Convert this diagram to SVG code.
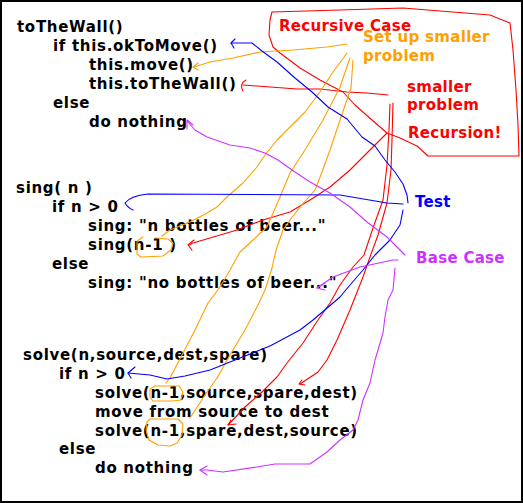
<svg xmlns="http://www.w3.org/2000/svg" width="523" height="503" viewBox="0 0 523 503">
<style>
text{font-family:"DejaVu Sans","Liberation Sans",sans-serif;font-weight:bold;font-size:15px}
.code{fill:#000;letter-spacing:0.7px}
.lab{letter-spacing:0.3px}
.r{fill:#FF0000}.o{fill:#FFA000}.b{fill:#0000FF}.p{fill:#CC33FF}
.ln{fill:none;stroke-width:1.1;stroke-linejoin:round;stroke-linecap:round}
.sr{stroke:#FF0000}.so{stroke:#FFA000}.sb{stroke:#0000FF}.sp{stroke:#CC33FF}
</style>
<rect x="1" y="1" width="521" height="501" fill="#fff" stroke="#000" stroke-width="2"/>

<g id="code-toTheWall">
<text class="code" x="17" y="32">toTheWall()</text>
<text class="code" x="53" y="51">if this.okToMove()</text>
<text class="code" x="89" y="70">this.move()</text>
<text class="code" x="89" y="89">this.toTheWall()</text>
<text class="code" x="53" y="108">else</text>
<text class="code" x="89" y="127">do nothing</text>
</g>
<g id="code-sing">
<text class="code" x="16" y="193">sing( n )</text>
<text class="code" x="52" y="212">if n &gt; 0</text>
<text class="code" x="88" y="231">sing: "n bottles of beer..."</text>
<text class="code" x="88" y="250">sing(n-1 )</text>
<text class="code" x="52" y="269">else</text>
<text class="code" x="88" y="288">sing: "no bottles of beer..."</text>
</g>
<g id="code-solve">
<text class="code" x="23" y="360">solve(n,source,dest,spare)</text>
<text class="code" x="59" y="379">if n &gt; 0</text>
<text class="code" x="95" y="398">solve(n-1,source,spare,dest)</text>
<text class="code" x="95" y="417">move from source to dest</text>
<text class="code" x="95" y="436">solve(n-1,spare,dest,source)</text>
<text class="code" x="59" y="454">else</text>
<text class="code" x="95" y="473">do nothing</text>
</g>

<g id="label-recursive-case">
<path class="ln sr" d="M272,12 L340,10 L403,8 L440,11 L490,15 L510,23 L513,50 L516,90 L518,125 L519,156 L428,156 L417,146 L400,138 L387,133 L372,120 L355,105 L343,92 L320,80 L300,68 L280,53 L273,47 L269,35 L270,20 Z"/>
<text class="lab r" x="279" y="31">Recursive Case</text>
</g>
<g id="label-setup">
<text class="lab o" x="363" y="42">Set up smaller</text>
<text class="lab o" x="363" y="61">problem</text>
</g>
<g id="label-smaller">
<text class="lab r" x="407" y="92">smaller</text>
<text class="lab r" x="407" y="110">problem</text>
</g>
<g id="label-recursion">
<text class="lab r" x="408" y="138">Recursion!</text>
</g>
<g id="label-test">
<text class="lab b" x="415" y="207">Test</text>
</g>
<g id="label-basecase">
<text class="lab p" x="416" y="263">Base Case</text>
</g>

<g id="highlights">
<path class="ln so" d="M143,237 L137,241 L137,254 L141,257 L163,256 L171,250 L173,243 L168,239 L155,238"/>
<path class="ln so" d="M155,386 L179,386 L183,392 L181,400 L172,401 L153,401 L150,397 L150,389 Z"/>
<path class="ln so" d="M150,419 L178,419 L183,424 L182,435 L177,443 L170,446 L158,445 L149,440 L146,430 L147,422 Z"/>
</g>

<g id="connectors">
<!-- red -->
<path class="ln sr" d="M388,95 L367,93 L347,92 L320,89 L297,89 L257,86 L243,85"/>
<path class="ln sr" d="M246,80 Q239,84 243,91"/>
<path class="ln sr" d="M387,133 L372,148 L350,170 L330,187 L310,200 L290,212 L263,220 L237,230 L210,238 L193,243 L189,245"/>
<path class="ln sr" d="M194,240 L188,245 L192,250"/>
<path class="ln sr" d="M390,104 L389,130 L387,165 L383,200 L373,228 L364,255 L353,267 L340,285 L330,303 L318,320 L303,343 L287,363 L277,377 L262,392 L245,407 L228,425"/>
<path class="ln sr" d="M236,424 L228,425 L231,420"/>
<path class="ln sr" d="M393,103 L392,140 L391,170 L387,203 L378,235 L370,257 L363,277 L350,310 L337,340 L327,360 L318,372 L300,384"/>
<path class="ln sr" d="M305,385 L299,384 L302,380"/>
<!-- orange -->
<path class="ln so" d="M347,44 L327,47 L293,50 L260,52 L233,58 L210,62 L194,67"/>
<path class="ln so" d="M198,63 L193,67 L198,70"/>
<path class="ln so" d="M347,53 L333,72 L320,92 L305,112 L290,127 L277,140 L265,155 L257,167 L243,183 L227,197 L217,207 L207,213 L190,222 L170,230 L162,236"/>
<path class="ln so" d="M350,58 L340,87 L323,120 L305,150 L290,173 L280,197 L267,227 L253,240 L240,252 L230,270 L220,287 L208,303 L195,330 L182,355 L170,378 L166,383"/>
<path class="ln so" d="M353,60 L351,88 L340,120 L330,150 L322,172 L315,190 L300,207 L290,220 L283,230 L276,250 L272,268 L265,290 L258,305 L245,330 L230,355 L217,378 L205,395 L190,418"/>
<!-- blue -->
<path class="ln sb" d="M231,43 L252,43 L262,51 L277,62 L295,78 L312,92 L328,107 L347,119 L362,137 L375,146 L385,160 L395,172 L403,184 L407,195 L408,203"/>
<path class="ln sb" d="M235,39 L231,43 L234,48"/>
<path class="ln sb" d="M403,204 L387,203 L340,195 L148,194 Q130,196 125,203 Q128,208 133,210"/>
<path class="ln sb" d="M403,210 L400,225 L390,240 L375,255 L363,270 L350,285 L340,297 L333,303 L313,320 L300,330 L270,346 L240,358 L210,370 L185,376 L167,379 L150,375 L128,373"/>
<path class="ln sb" d="M135,367 L128,373 L131,378"/>
<!-- purple -->
<path class="ln sp" d="M187,121 L195,130 L207,137 L230,145 L250,148 L265,153 L278,160 L292,170 L310,182 L330,193 L350,207 L367,222 L387,237 L397,247 L405,255"/>
<path class="ln sp" d="M187,129 L187,120 L193,125"/>
<path class="ln sp" d="M398,260 L393,260 L360,267 L333,277 L317,288"/>
<path class="ln sp" d="M325,283 L317,288 L325,290"/>
<path class="ln sp" d="M395,268 L393,290 L388,300 L385,317 L383,333 L378,350 L375,360 L370,383 L363,400 L358,420 L353,430 L340,440 L327,452 L310,464 L275,464 L257,467 L223,472 L207,470 L200,470"/>
<path class="ln sp" d="M207,466 L200,470 L207,475"/>
</g>
</svg>
